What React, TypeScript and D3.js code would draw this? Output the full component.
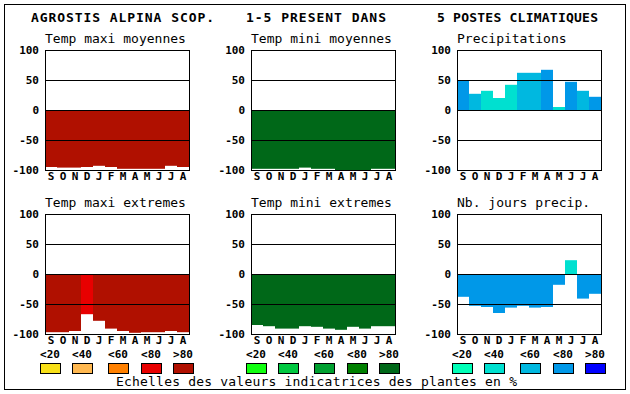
import React from "react";
import * as d3 from "d3";

const months = ["S", "O", "N", "D", "J", "F", "M", "A", "M", "J", "J", "A"];
const yTicks = [100, 50, 0, -50, -100];
const legendLabels = ["<20", "<40", "<60", "<80", ">80"];

const redScale = ["#f8e018", "#ffb850", "#ff8000", "#e80000", "#b01000"];
const greenScale = ["#10ff10", "#00c840", "#00a030", "#008000", "#006818"];
const blueScale = ["#00ffb8", "#00e0d0", "#00b8e0", "#0098e8", "#0000ff"];

// values per month and colour class (0..4 -> legend <20 .. >80)
const tmaxMoy = [-95, -96, -96, -95, -93, -95, -98, -98, -98, -98, -93, -95];
const tmaxMoyCls = [4, 4, 4, 4, 4, 4, 4, 4, 4, 4, 4, 4];
const tminMoy = [-98, -98, -98, -98, -96, -98, -98, -100, -100, -100, -98, -98];
const tminMoyCls = [4, 4, 4, 4, 4, 4, 4, 4, 4, 4, 4, 4];
const precip = [49, 27, 32, 20, 42, 62, 62, 67, 5, 47, 32, 22];
const precipCls = [3, 2, 1, 1, 1, 2, 2, 3, 1, 3, 2, 3];
const tmaxExt = [-97, -97, -95, -67, -78, -91, -95, -98, -97, -97, -95, -97];
const tmaxExtCls = [4, 4, 4, 3, 4, 4, 4, 4, 4, 4, 4, 4];
const tminExt = [-85, -87, -91, -91, -87, -88, -91, -93, -88, -91, -87, -87];
const tminExtCls = [4, 4, 4, 4, 4, 4, 4, 4, 4, 4, 4, 4];
const joursPrecip = [-38, -53, -55, -65, -56, -53, -56, -55, -18, 23, -41, -33];
const joursPrecipCls = [3, 3, 3, 3, 3, 3, 3, 3, 3, 1, 3, 3];

const panels = [
  { title: "Temp maxi moyennes", values: tmaxMoy, cls: tmaxMoyCls, colors: redScale, col: 0, row: 0 },
  { title: "Temp mini moyennes", values: tminMoy, cls: tminMoyCls, colors: greenScale, col: 1, row: 0 },
  { title: "Precipitations", values: precip, cls: precipCls, colors: blueScale, col: 2, row: 0 },
  { title: "Temp maxi extremes", values: tmaxExt, cls: tmaxExtCls, colors: redScale, col: 0, row: 1 },
  { title: "Temp mini extremes", values: tminExt, cls: tminExtCls, colors: greenScale, col: 1, row: 1 },
  { title: "Nb. jours precip.", values: joursPrecip, cls: joursPrecipCls, colors: blueScale, col: 2, row: 1 },
];
const legendScales = [redScale, greenScale, blueScale];

const mono = "'DejaVu Sans Mono', monospace";
const colLeft = [45, 251, 457];
const rowTop = [50, 214];
const pw = 144;
const ph = 120;
const legendOffsets = [-5, 27, 63, 96, 128];

function Panel({ p }: { p: (typeof panels)[number] }) {
  const left = colLeft[p.col];
  const top = rowTop[p.row];
  const x = d3.scaleBand<number>().domain(d3.range(months.length)).range([left, left + pw]).padding(0);
  const y = d3.scaleLinear().domain([-100, 100]).range([top + ph, top]);
  return (
    <g>
      <text x={left} y={top - 7} fontFamily={mono} fontSize={13} fill="#000">
        {p.title}
      </text>
      <rect x={left + 0.5} y={top + 0.5} width={pw} height={ph} fill="#fff" stroke="none" />
      {p.values.map((v, i) => (
        <rect
          key={i}
          x={x(i)}
          y={Math.min(y(v), y(0))}
          width={x.bandwidth()}
          height={Math.abs(y(v) - y(0))}
          fill={p.colors[p.cls[i]]}
        />
      ))}
      {[50, 0, -50].map((t) => (
        <line key={t} x1={left} x2={left + pw} y1={Math.round(y(t)) + 0.5} y2={Math.round(y(t)) + 0.5} stroke="#000" />
      ))}
      <rect x={left + 0.5} y={top + 0.5} width={pw} height={ph} fill="none" stroke="#000" />
      {yTicks.map((t) => (
        <text
          key={t}
          x={left - 6}
          y={y(t) + 4}
          textAnchor="end"
          fontFamily={mono}
          fontWeight="bold"
          fontSize={11}
          fill="#000"
        >
          {t}
        </text>
      ))}
      {months.map((m, i) => (
        <text
          key={i}
          x={(x(i) as number) + x.bandwidth() / 2}
          y={top + ph + 10}
          textAnchor="middle"
          fontFamily={mono}
          fontWeight="bold"
          fontSize={11}
          fill="#000"
        >
          {m}
        </text>
      ))}
    </g>
  );
}

export default function App() {
  return (
    <svg width={630} height={394} style={{ position: "absolute", left: 0, top: 0, background: "#fff" }}>
      <rect x={4.5} y={4.5} width={621} height={385} fill="#fff" stroke="#000" />
      <g fontFamily={mono} fontWeight="bold" fontSize={13} fill="#000">
        <text x={31} y={22} textLength={183} lengthAdjust="spacing">AGROSTIS ALPINA SCOP.</text>
        <text x={246} y={22} textLength={140} lengthAdjust="spacing">1-5 PRESENT DANS</text>
        <text x={437} y={22} textLength={161} lengthAdjust="spacing">5 POSTES CLIMATIQUES</text>
      </g>
      {panels.map((p, i) => (
        <Panel key={i} p={p} />
      ))}
      {legendScales.map((sc, c) => (
        <g key={c}>
          {sc.map((color, k) => {
            const sx = colLeft[c] + legendOffsets[k];
            return (
              <g key={k}>
                <text
                  x={sx + 10}
                  y={358}
                  textAnchor="middle"
                  fontFamily={mono}
                  fontWeight="bold"
                  fontSize={11}
                  fill="#000"
                >
                  {legendLabels[k]}
                </text>
                <rect x={sx + 0.5} y={363.5} width={20} height={10} fill={color} stroke="#000" />
              </g>
            );
          })}
        </g>
      ))}
      <text x={116} y={386} fontFamily={mono} fontSize={13} fill="#000" textLength={401} lengthAdjust="spacing">
        Echelles des valeurs indicatrices des plantes en %
      </text>
    </svg>
  );
}
